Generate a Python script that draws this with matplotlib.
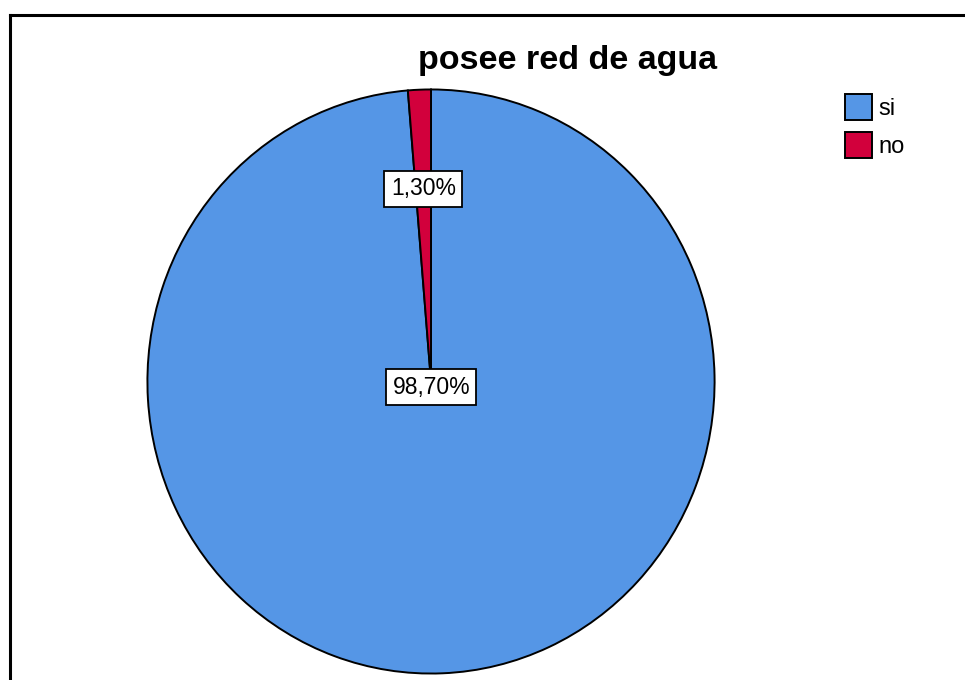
import matplotlib.pyplot as plt
from matplotlib.lines import Line2D
import numpy as np

# data
categories = ["si", "no"]
percentages = [98.70, 1.30]
colors = ["#5596E6", "#D2003C"]
title = "posee red de agua"

W, H = 965, 680
fig = plt.figure(figsize=(W / 100, H / 100), dpi=100)
plt.rcParams['font.family'] = ['Liberation Sans', 'DejaVu Sans']

# outer frame (only top and left edges visible in the crop)
fy = 1 - 15 / H
fx = 9.5 / W
fig.add_artist(Line2D([fx, 1.0], [fy, fy], color="black", lw=2.2, transform=fig.transFigure))
fig.add_artist(Line2D([fx, fx], [fy, 0.0], color="black", lw=2.2, transform=fig.transFigure))

# pie axes (slightly taller than wide, like the original)
left, right, top, bottom = 146, 716, 88, 675
ax = fig.add_axes([left / W, 1 - bottom / H, (right - left) / W, (bottom - top) / H])
wedges, _ = ax.pie(percentages, colors=colors, startangle=90, counterclock=False,
                   wedgeprops=dict(edgecolor="black", linewidth=1.4))
ax.set_aspect("auto")
ax.set_xlim(-1.005, 1.005)
ax.set_ylim(-1.005, 1.005)

# percentage labels in white boxes
label_r = [0.02, 0.66]
for w, pct, r in zip(wedges, percentages, label_r):
    mid = np.deg2rad((w.theta1 + w.theta2) / 2)
    txt = f"{pct:.2f}%".replace(".", ",")
    ax.text(r * np.cos(mid), r * np.sin(mid), txt, ha="center", va="center", fontsize=16.5,
            bbox=dict(boxstyle="square,pad=0.28", facecolor="white", edgecolor="black", linewidth=1.3))

fig.text(567 / W, 1 - 61 / H, title, ha="center", va="center", fontsize=24.5, fontweight="bold")

leg = fig.legend(wedges, categories, loc="upper left", bbox_to_anchor=(845 / W, 1 - 94 / H),
                 frameon=False, fontsize=17, handlelength=1.15, handleheight=1.3,
                 handletextpad=0.25, labelspacing=0.52, borderpad=0, borderaxespad=0)

fig.savefig("out.png", dpi=100)
